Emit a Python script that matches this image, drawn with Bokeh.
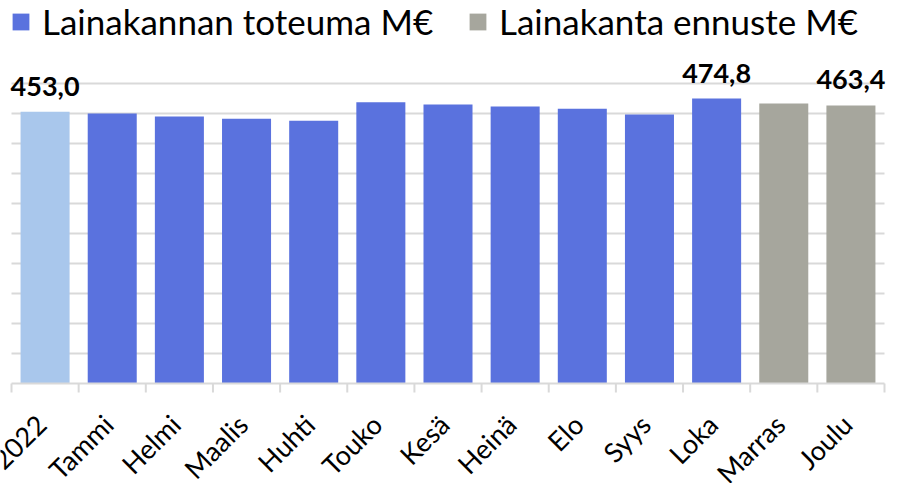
from math import pi
from bokeh.plotting import figure
from bokeh.core.properties import value
from bokeh.models import Range1d, Legend, LegendItem, LabelSet, ColumnDataSource
from bokeh.embed import file_html
from bokeh.resources import INLINE

categories = ["12/2022", "Tammi", "Helmi", "Maalis", "Huhti", "Touko", "Kesä",
              "Heinä", "Elo", "Syys", "Loka", "Marras", "Joulu"]
values = [453.0, 450.0, 445.0, 441.2, 437.8, 468.8, 465.0, 461.7, 457.8,
          448.3, 474.8, 466.7, 463.4]
kinds = ["base"] + ["actual"] * 10 + ["forecast"] * 2
series_names = {"actual": "Lainakannan toteuma M€",
                "forecast": "Lainakanta ennuste M€"}
labelled = [0, 10, 12]
y_ticks = [50, 100, 150, 200, 250, 300, 350, 400, 450, 500]

colors = {"base": "#A9C7EC", "actual": "#5A72DE", "forecast": "#A6A69D"}
GRID = "#D9D9D9"

# layout (pixels inside the figure)
FIG_W, FIG_H = 897, 483
PLOT_L, PLOT_R = 11, 884          # axis extent
PLOT_TOP, PLOT_BOT = 83, 383      # pixel rows of y=500 and y=0
n = len(categories)
px_x = (PLOT_R - PLOT_L) / n
px_y = (PLOT_BOT - PLOT_TOP) / y_ticks[-1]
x_range = Range1d(-PLOT_L / px_x, n + (FIG_W - PLOT_R) / px_x)
y_range = Range1d(-(FIG_H - PLOT_BOT) / px_y, PLOT_BOT / px_y)

p = figure(width=FIG_W, height=FIG_H, output_backend="svg",
           toolbar_location=None, x_range=x_range, y_range=y_range,
           x_axis_location=None, y_axis_location=None,
           min_border=0)
p.outline_line_color = None
p.xgrid.visible = False
p.ygrid.visible = False

# horizontal gridlines
p.segment(x0=[0] * len(y_ticks), x1=[n] * len(y_ticks), y0=y_ticks, y1=y_ticks,
          line_color=GRID, line_width=2)

renderers = {}
for k in ["base", "actual", "forecast"]:
    idx = [i for i, kk in enumerate(kinds) if kk == k]
    src = ColumnDataSource(dict(x=[i + 0.5 for i in idx],
                                top=[values[i] for i in idx]))
    renderers[k] = p.vbar(x="x", top="top", bottom=0, width=0.73, source=src,
                          fill_color=colors[k], line_color=None)

# category axis: line and boundary ticks
tick_len = 9 / px_y
p.segment(x0=[0], x1=[n], y0=[0], y1=[0], line_color=GRID, line_width=2)
p.segment(x0=list(range(n + 1)), x1=list(range(n + 1)), y0=[0] * (n + 1),
          y1=[-tick_len] * (n + 1), line_color=GRID, line_width=2)

# category labels, rotated 45 degrees, ending at the category centre
p.text(x=[i + 0.5 for i in range(n)], y=[0] * n, text=categories,
       angle=pi / 4, text_align="right", text_baseline="alphabetic",
       x_offset=-4, y_offset=36, text_font=value("Lato"),
       text_font_size="27px", text_color="#000000")

lab_src = ColumnDataSource(dict(
    x=[i + 0.5 for i in labelled],
    y=[values[i] for i in labelled],
    t=[f"{values[i]:.1f}".replace(".", ",") for i in labelled]))
p.add_layout(LabelSet(x="x", y="y", text="t", source=lab_src, y_offset=16,
                      text_align="center", text_baseline="alphabetic",
                      text_font=value("Lato"), text_font_style="bold",
                      text_font_size="27px", text_color="#000000"))

for k, xloc in [("actual", 10), ("forecast", 467)]:
    lg = Legend(items=[LegendItem(label=series_names[k], renderers=[renderers[k]])],
                location=(xloc, 441), orientation="horizontal",
                glyph_width=21, glyph_height=21, label_standoff=11,
                label_text_font="Lato", label_text_font_size="35px",
                label_text_color="#000000", padding=0, margin=0,
                border_line_color=None, background_fill_alpha=0)
    p.add_layout(lg, "center")

open("out.html", "w").write(file_html(p, INLINE))
